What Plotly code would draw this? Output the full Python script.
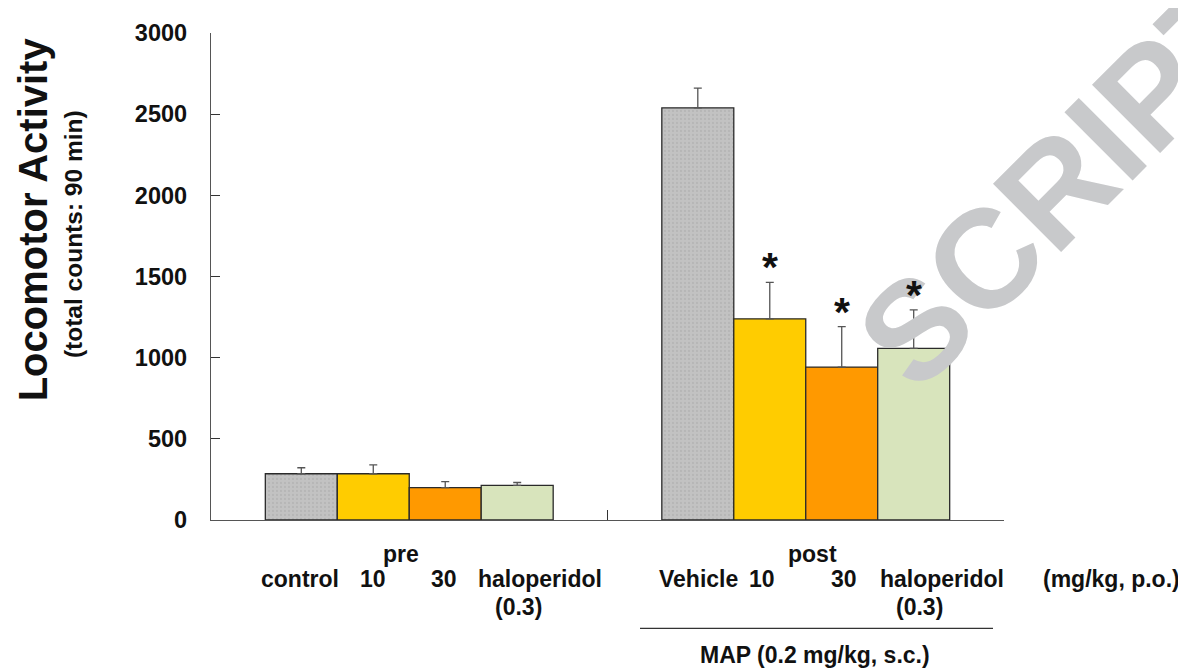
import plotly.graph_objects as go

# ---------------- data ----------------
groups = ["pre", "post"]
series_names = ["control / Vehicle", "10 mg/kg", "30 mg/kg", "haloperidol (0.3)"]
control_vals = [285, 2539]
dose10_vals = [285, 1239]
dose30_vals = [200, 942]
halo_vals = [213, 1057]
control_err = [37, 122]
dose10_err = [55, 225]
dose30_err = [37, 249]
halo_err = [18, 237]
post_significant = [False, True, True, True]

pre_labels = ["control", "10", "30", "haloperidol"]
post_labels = ["Vehicle", "10", "30", "haloperidol"]
y_ticks = [0, 500, 1000, 1500, 2000, 2500, 3000]

values = [control_vals, dose10_vals, dose30_vals, halo_vals]
errors = [control_err, dose10_err, dose30_err, halo_err]
colors = ["#C2C2C2", "#FFCC00", "#FF9900", "#D8E4BC"]

FONT = "Liberation Sans, Arial, sans-serif"
BARGAP = 0.274

# page body has an 8px margin; figure is sized to fit the window
W, H = 1178, 660
L, T, R, B = 203, 18, 182, 148

fig = go.Figure()
for i, (name, vals, errs, col) in enumerate(zip(series_names, values, errors, colors)):
    marker = dict(color=col, line=dict(color="#2a2a2a", width=1.3))
    if i == 0:
        marker["pattern"] = dict(shape=".", fgcolor="#A9A9A9", bgcolor=col, size=4, solidity=0.25)
    fig.add_trace(go.Bar(
        name=name, x=groups, y=vals, marker=marker,
        error_y=dict(type="data", symmetric=False, array=errs, arrayminus=[0] * len(errs),
                     color="#555555", thickness=1.3, width=4),
        showlegend=False,
    ))

ann = []

def px_to_paper_x(px):
    return (px - 211) / 793.0

def px_to_paper_y(py):
    return (520 - py) / 494.0

# watermark (drawn first so other annotations sit on top)
ann.append(dict(x=px_to_paper_x(1064), y=px_to_paper_y(176), xref="paper", yref="paper",
                text="SCRIPT", textangle=-45, showarrow=False,
                font=dict(family=FONT, size=140, color="#C8C9CB", weight="bold"),
                xanchor="center", yanchor="middle"))

bw = (1 - BARGAP) / 4
for i, sig in enumerate(post_significant):
    if sig:
        xc = 1 + (i - 1.5) * bw
        ann.append(dict(x=xc, y=values[i][1] + errors[i][1], xref="x", yref="y",
                        text="*", showarrow=False, yanchor="middle", yshift=15,
                        font=dict(family=FONT, size=41, color="#111111", weight="bold")))

lab_font = dict(family=FONT, size=23, color="#111111", weight="bold")

row1 = 554
row2 = 580
row3 = 608
pre_x = [300, 373, 444, 540]
post_x = [698, 762, 844, 942]
for lbl, px in zip(pre_labels, pre_x):
    ann.append(dict(x=px_to_paper_x(px), y=px_to_paper_y(row2), xref="paper", yref="paper",
                    text=lbl, showarrow=False, font=lab_font, xanchor="center", yanchor="middle"))
for lbl, px in zip(post_labels, post_x):
    ann.append(dict(x=px_to_paper_x(px), y=px_to_paper_y(row2), xref="paper", yref="paper",
                    text=lbl, showarrow=False, font=lab_font, xanchor="center", yanchor="middle"))
for txt, px, py in [("pre", 401, row1), ("post", 812, row1), ("(0.3)", 518, row3),
                    ("(0.3)", 919, row3), ("(mg/kg, p.o.)", 1111, row2),
                    ("MAP (0.2 mg/kg, s.c.)", 815, 657)]:
    ann.append(dict(x=px_to_paper_x(px), y=px_to_paper_y(py), xref="paper", yref="paper",
                    text=txt, showarrow=False, font=lab_font, xanchor="center", yanchor="middle"))

ann.append(dict(x=px_to_paper_x(33), y=px_to_paper_y(215), xref="paper", yref="paper",
                text="Locomotor Activity", textangle=-90, showarrow=False,
                font=dict(family=FONT, size=40, color="#111111", weight="bold"),
                xanchor="center", yanchor="middle"))
ann.append(dict(x=px_to_paper_x(73), y=px_to_paper_y(230), xref="paper", yref="paper",
                text="(total counts: 90 min)", textangle=-90, showarrow=False,
                font=dict(family=FONT, size=24.5, color="#111111", weight="bold"),
                xanchor="center", yanchor="middle"))

shapes = [dict(type="line", xref="paper", yref="paper",
               x0=px_to_paper_x(640), x1=px_to_paper_x(993),
               y0=px_to_paper_y(630), y1=px_to_paper_y(630),
               line=dict(color="#333333", width=1.3))]

fig.update_layout(
    width=W, height=H,
    margin=dict(l=L, r=R, t=T, b=B),
    paper_bgcolor="white", plot_bgcolor="white",
    barmode="group", bargap=BARGAP, bargroupgap=0,
    annotations=ann, shapes=shapes,
    xaxis=dict(type="category", categoryorder="array", categoryarray=groups,
               range=[-0.5, 1.5], tickson="boundaries", ticks="inside", ticklen=10,
               tickcolor="#333333", showticklabels=False, showline=True,
               linecolor="#555555", linewidth=1.3, showgrid=False, zeroline=False),
    yaxis=dict(range=[0, 3000], tickvals=y_ticks, ticks="inside", ticklen=9,
               tickcolor="#333333", showline=True, linecolor="#555555", linewidth=1.3,
               showgrid=False, zeroline=False, ticklabelstandoff=18,
               tickfont=dict(family=FONT, size=23.5, color="#111111", weight="bold")),
)

fig.write_html("out.html")
